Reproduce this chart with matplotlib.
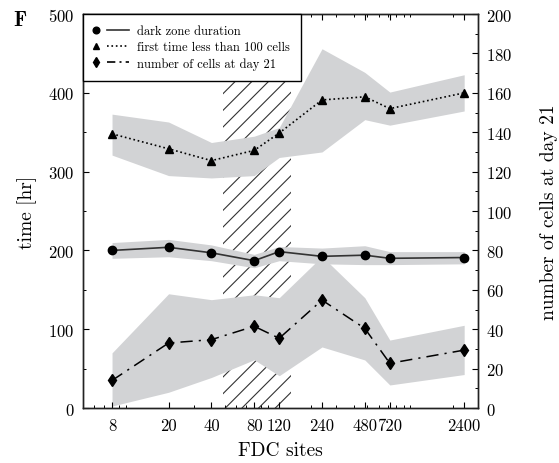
import matplotlib
matplotlib.use("Agg")
import matplotlib.pyplot as plt
from matplotlib.lines import Line2D
from matplotlib.legend_handler import HandlerBase
from matplotlib.ticker import FixedLocator, LogLocator, NullFormatter, FixedFormatter, MultipleLocator

plt.rcParams['font.family'] = ['cmr10', 'DejaVu Serif']
plt.rcParams['axes.formatter.use_mathtext'] = True
plt.rcParams['hatch.linewidth'] = 0.8

# ---- data ----
sites = [8, 20, 40, 80, 120, 240, 480, 720, 2400]
site_labels = ['8', '20', '40', '80', '120', '240', '480', '720', '2400']

dz_mean = [200, 204, 197, 187, 198.5, 192.5, 194, 190, 191]
dz_upper = [210, 214, 207, 195, 205, 203, 206, 198.5, 198.5]
dz_lower = [190, 192, 187, 178, 187, 183, 182, 182, 183]

tri_mean = [348, 329, 314, 327, 349, 391, 395, 380, 400]
tri_upper = [373, 363, 337, 345, 356, 456, 426, 401, 423]
tri_lower = [321, 295, 292, 295, 318, 325, 366, 359, 377]

cnt_mean = [14, 33, 34.7, 41.5, 35.4, 54.8, 40.4, 22.7, 29.4]
cnt_upper = [28, 58, 55, 57.5, 56, 77, 56, 34.5, 42]
cnt_lower = [1, 8, 15.5, 24.5, 16.4, 31, 24.4, 11.7, 17]

hatch_range = [48, 145]

band = '#d2d3d5'
dashdot = (0, (8, 4, 1.4, 4))

fig = plt.figure(figsize=(5.59, 4.64), dpi=100)
ax = fig.add_axes([0.1485, 0.1185, 0.7065, 0.849])
ax2 = ax.twinx()
ax.set_zorder(ax2.get_zorder() + 1)
ax.patch.set_visible(False)

# hatched region and count band on right axis (below)
ax2.axvspan(hatch_range[0], hatch_range[1], facecolor='none', edgecolor='#333333',
            hatch='//', linewidth=0, zorder=0)
ax2.fill_between(sites, cnt_lower, cnt_upper, color=band, linewidth=0, zorder=1)
ax2.plot(sites, cnt_mean, color='black', linestyle=dashdot, linewidth=1.1,
         marker='d', markersize=6.5, zorder=3)

# left axis
ax.fill_between(sites, tri_lower, tri_upper, color=band, linewidth=0, zorder=1)
ax.fill_between(sites, dz_lower, dz_upper, color=band, linewidth=0, zorder=1)
ax.plot(sites, dz_mean, color='#333333', linestyle='-', linewidth=1.2,
        marker='o', markersize=6, markerfacecolor='black', markeredgecolor='black', zorder=3)
ax.plot(sites, tri_mean, color='black', linestyle=':', linewidth=1.2,
        marker='^', markersize=5.5, zorder=3)

ax.set_xscale('log')
ax.set_xlim(5, 3000)
ax.set_ylim(0, 500)
ax2.set_ylim(0, 200)

ax.xaxis.set_major_locator(FixedLocator(sites))
ax.xaxis.set_major_formatter(FixedFormatter(site_labels))
ax.xaxis.set_minor_locator(LogLocator(base=10, subs=range(1, 10), numticks=20))
ax.xaxis.set_minor_formatter(NullFormatter())
ax.yaxis.set_major_locator(MultipleLocator(100))
ax.yaxis.set_minor_locator(MultipleLocator(50))
ax2.yaxis.set_major_locator(MultipleLocator(20))
ax2.yaxis.set_minor_locator(MultipleLocator(10))

ax.tick_params(axis='x', which='both', direction='in', top=True, labelsize=12, pad=7)
ax.tick_params(axis='x', which='major', length=4, width=0.8)
ax.tick_params(axis='x', which='minor', length=2.5, width=0.7)
ax.tick_params(axis='y', which='both', direction='in', labelsize=12, pad=6)
ax.tick_params(axis='y', which='major', length=4.5, width=0.8)
ax.tick_params(axis='y', which='minor', length=2.5, width=0.7)
ax2.tick_params(axis='y', which='both', direction='in', labelsize=12, pad=6)
ax2.tick_params(axis='y', which='major', length=4.5, width=0.8)
ax2.tick_params(axis='y', which='minor', length=2.5, width=0.7)

for a in (ax, ax2):
    for s in a.spines.values():
        s.set_linewidth(1.0)
        s.set_color('#222222')

ax.set_xlabel('FDC sites', fontsize=14, labelpad=6)
ax.set_ylabel('time [hr]', fontsize=14, labelpad=8)
ax2.set_ylabel('number of cells at day 21', fontsize=14, labelpad=20)


# legend: marker on the left, line segment to the right
class MarkerThenLine(HandlerBase):
    def __init__(self, marker, ms, ls, color):
        super().__init__()
        self.marker, self.ms, self.ls, self.color = marker, ms, ls, color

    def create_artists(self, legend, orig_handle, xdescent, ydescent, width, height,
                       fontsize, trans):
        y = height / 2 - ydescent
        m = Line2D([-xdescent + 0.06 * width], [y], marker=self.marker, markersize=self.ms,
                   color='black', linestyle='none', transform=trans)
        l = Line2D([-xdescent + 0.37 * width, -xdescent + width], [y, y], color=self.color,
                   linestyle=self.ls, linewidth=1.2, transform=trans)
        return [m, l]


h1 = Line2D([], [], color='black')
h2 = Line2D([], [], color='black', linestyle=':')
h3 = Line2D([], [], color='black', linestyle='-.')
labels = ['dark zone duration', 'first time less than 100 cells', 'number of cells at day 21']
leg = ax.legend([h1, h2, h3], labels,
                handler_map={h1: MarkerThenLine('o', 4.8, '-', '#333333'),
                             h2: MarkerThenLine('^', 4.8, ':', 'black'),
                             h3: MarkerThenLine('d', 5.2, (0, (5, 2.5, 1.2, 2.5)), 'black')},
                loc='upper left', bbox_to_anchor=(0, 1), borderaxespad=0,
                fontsize=9, handlelength=2.8, handletextpad=0.64, borderpad=0.9,
                labelspacing=0.3, fancybox=False, framealpha=1, edgecolor='black')
leg.get_frame().set_linewidth(1.0)

fig.text(0.023, 0.944, 'F', fontsize=15, fontfamily=['cmb10', 'DejaVu Serif'],
         fontweight='bold', va='baseline', ha='left')

fig.savefig('out.png', dpi=100)
